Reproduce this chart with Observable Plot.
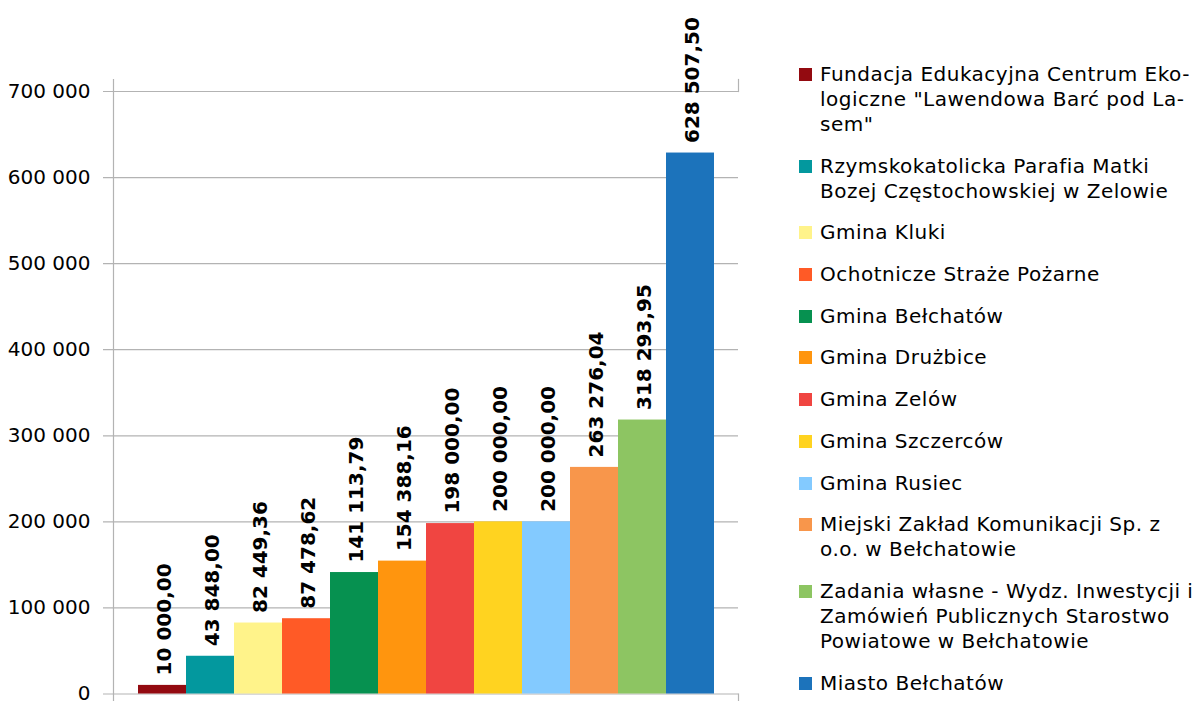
<!DOCTYPE html>
<html>
<head>
<meta charset="utf-8">
<script src="https://cdn.jsdelivr.net/npm/d3@7"></script>
<script src="https://cdn.jsdelivr.net/npm/@observablehq/plot@0.6"></script>
<style>
  html, body { margin: 0; padding: 0; background: #fff; }
  #wrap { position: relative; width: 1201px; height: 701px; overflow: hidden; }
  #legend { position: absolute; left: 799px; top: 62px; font-family: "DejaVu Sans", sans-serif; font-size: 20px; letter-spacing: 0.5px; color: #000; }
  .item { display: flex; align-items: flex-start; margin-bottom: 16.7px; }
  .sw { width: 13px; height: 13px; margin-top: 6px; margin-right: 8px; flex: none; }
  .lbl { line-height: 25px; white-space: pre; }
</style>
</head>
<body>
<div id="wrap"><div id="chart"></div><div id="legend"></div></div>
<script>
const categories = [
  "Fundacja Edukacyjna Centrum Ekologiczne \"Lawendowa Barć pod Lasem\"",
  "Rzymskokatolicka Parafia Matki Bozej Częstochowskiej w Zelowie",
  "Gmina Kluki",
  "Ochotnicze Straże Pożarne",
  "Gmina Bełchatów",
  "Gmina Drużbice",
  "Gmina Zelów",
  "Gmina Szczerców",
  "Gmina Rusiec",
  "Miejski Zakład Komunikacji Sp. z o.o. w Bełchatowie",
  "Zadania własne - Wydz. Inwestycji i Zamówień Publicznych Starostwo Powiatowe w Bełchatowie",
  "Miasto Bełchatów"
];
const legendLabels = [
  "Fundacja Edukacyjna Centrum Eko-\nlogiczne \"Lawendowa Barć pod La-\nsem\"",
  "Rzymskokatolicka Parafia Matki\nBozej Częstochowskiej w Zelowie",
  "Gmina Kluki",
  "Ochotnicze Straże Pożarne",
  "Gmina Bełchatów",
  "Gmina Drużbice",
  "Gmina Zelów",
  "Gmina Szczerców",
  "Gmina Rusiec",
  "Miejski Zakład Komunikacji Sp. z\no.o. w Bełchatowie",
  "Zadania własne - Wydz. Inwestycji i\nZamówień Publicznych Starostwo\nPowiatowe w Bełchatowie",
  "Miasto Bełchatów"
];
const values = [10000.00, 43848.00, 82449.36, 87478.62, 141113.79, 154388.16, 198000.00, 200000.00, 200000.00, 263276.04, 318293.95, 628507.50];
const colors = ["#930a10", "#03989e", "#fff38a", "#ff5a26", "#069150", "#ff950e", "#f04541", "#ffd320", "#83caff", "#f8964b", "#8dc562", "#1c73bb"];
const yTicks = [0, 100000, 200000, 300000, 400000, 500000, 600000, 700000];

const data = categories.map((c, i) => ({cat: c, value: values[i], color: colors[i]}));
const loc = d3.formatLocale({decimal: ",", thousands: " ", grouping: [3], currency: ["", ""]});
const fmtVal = loc.format(",.2f");
const fmtTick = loc.format(",d");

const chart = Plot.plot({
  width: 1201,
  height: 701,
  marginLeft: 113,
  marginRight: 463,
  marginTop: 91,
  marginBottom: 7.5,
  style: {fontFamily: "DejaVu Sans, sans-serif", background: "#fff"},
  x: {domain: categories, paddingInner: 0, paddingOuter: 0.5, axis: null},
  y: {domain: [0, 700000], axis: null},
  marks: [
    Plot.ruleY(yTicks, {stroke: "#b3b3b3", strokeWidth: 1.2, insetLeft: -10}),
    Plot.frame({anchor: "left", stroke: "#b3b3b3", strokeWidth: 1.2, insetTop: -12, insetBottom: -7.5}),
    Plot.frame({anchor: "right", stroke: "#b3b3b3", strokeWidth: 1.2, insetTop: -12, insetBottom: 602.5}),
    Plot.frame({anchor: "right", stroke: "#b3b3b3", strokeWidth: 1.2, insetTop: 602.5, insetBottom: -7.5}),
    Plot.axisY(yTicks, {label: null, tickSize: 0, tickPadding: 23, tickFormat: fmtTick, fontSize: 20, fill: "#000"}),
    Plot.barY(data, {x: "cat", y: "value", fill: "color"}),
    Plot.text(data, {x: "cat", y: "value", text: d => fmtVal(d.value), rotate: -90, textAnchor: "start", lineAnchor: "middle", dy: -10, dx: 2, fontSize: 20, fontWeight: "bold", fill: "#000"})
  ]
});
document.getElementById("chart").appendChild(chart);

const legend = document.getElementById("legend");
legendLabels.forEach((t, i) => {
  const item = document.createElement("div");
  item.className = "item";
  const sw = document.createElement("div");
  sw.className = "sw";
  sw.style.background = colors[i];
  const lbl = document.createElement("div");
  lbl.className = "lbl";
  lbl.textContent = t;
  item.appendChild(sw);
  item.appendChild(lbl);
  legend.appendChild(item);
});
</script>
</body>
</html>
